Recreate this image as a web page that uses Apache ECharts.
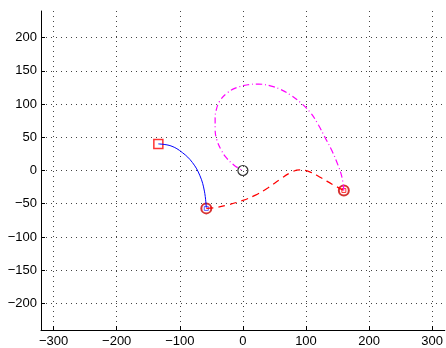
<!DOCTYPE html>
<html>
<head>
<meta charset="utf-8">
<script src="https://cdn.jsdelivr.net/npm/echarts@6/dist/echarts.min.js"></script>
<style>
html, body { margin: 0; padding: 0; background: #fff; }
#main { width: 446px; height: 348px; }
</style>
</head>
<body>
<div id="main"></div>
<script>
// tick labels
var xTicks = [-300, -200, -100, 0, 100, 200, 300];
var yTicks = [-200, -150, -100, -50, 0, 50, 100, 150, 200];

// blue arc (solid)
var arcX = [-134, -114, -96, -80, -68, -61, -58];
var arcY = [40, 37, 27, 12, -8, -31, -56];

// red dashed path
var dashX = [-58, -45, -25, 0, 20, 40, 58, 74, 90, 106, 124, 142, 160];
var dashY = [-57, -56, -52, -45, -37, -26, -14, -4, 1, -2, -11, -21, -30];

// magenta dash-dot loop
var loopX = [160, 157, 150, 141, 130, 120, 108, 94, 78, 62, 45, 25, 8, -12, -27, -37, -42, -44, -44, -41, -35, -27, -14, 0];
var loopY = [-30, -10, 10, 30, 50, 68, 86, 100, 112, 121, 127, 130, 129, 124, 115, 104, 92, 78, 62, 45, 32, 20, 8, 0];

// markers
var startPt = [-134, 40];
var endA = [-58, -57];
var endB = [160, -30];
var originPt = [0, 0];

function pairs(xs, ys) {
	var out = [];
	for (var i = 0; i < xs.length; i++) {
		out.push([xs[i], ys[i]]);
	}
	return out;
}

var myChart = echarts.init(document.getElementById('main'));

var gridLine = { show: true, lineStyle: { color: '#444', type: [1, 4], width: 1 } };
var labelFont = { color: '#000', fontSize: 13, fontFamily: 'Liberation Sans, Arial, sans-serif' };
var minus = function (v) { return v < 0 ? '\u2212' + (-v) : '' + v; };
var hollow = 'rgba(0,0,0,0)';

myChart.setOption({
	animation: false,
	grid: { left: 41, top: 11, right: 0, bottom: 18, containLabel: false },
	xAxis: {
		type: 'value', min: -320, max: 320,
		axisLine: { show: true, onZero: false, lineStyle: { color: '#000', width: 1 } },
		axisTick: { show: true, inside: true, length: 4, customValues: xTicks, lineStyle: { color: '#000' } },
		axisLabel: Object.assign({ customValues: xTicks, margin: 5, formatter: minus }, labelFont),
		splitLine: gridLine
	},
	yAxis: {
		type: 'value', min: -240, max: 240,
		axisLine: { show: true, onZero: false, lineStyle: { color: '#000', width: 1 } },
		axisTick: { show: true, inside: true, length: 4, customValues: yTicks, lineStyle: { color: '#000' } },
		axisLabel: Object.assign({ customValues: yTicks, margin: 4, formatter: minus }, labelFont),
		splitLine: gridLine
	},
	series: [
		{
			type: 'line', smooth: 0.4, symbol: 'none',
			data: pairs(arcX, arcY),
			lineStyle: { color: '#0000ff', width: 1 }
		},
		{
			type: 'line', smooth: 0.4, symbol: 'none',
			data: pairs(dashX, dashY),
			lineStyle: { color: '#ff0000', width: 1.2, type: [7, 5] }
		},
		{
			type: 'line', smooth: 0.4, symbol: 'none',
			data: pairs(loopX, loopY),
			lineStyle: { color: '#ff00ff', width: 1.2, type: [6, 3, 1, 3] }
		},
		{
			type: 'scatter', symbol: 'rect', symbolSize: 9,
			data: [startPt],
			itemStyle: { color: hollow, borderColor: '#ff0000', borderWidth: 1.5 }
		},
		{
			type: 'scatter', symbol: 'circle', symbolSize: 10,
			data: [endA, endB],
			itemStyle: { color: hollow, borderColor: '#cc0000', borderWidth: 2 }
		},
		{
			type: 'scatter', symbol: 'rect', symbolSize: 4,
			data: [endA],
			itemStyle: { color: hollow, borderColor: '#3333ff', borderWidth: 1 }
		},
		{
			type: 'scatter', symbol: 'rect', symbolSize: 4,
			data: [endB],
			itemStyle: { color: hollow, borderColor: '#ff0000', borderWidth: 1 }
		},
		{
			type: 'scatter', symbol: 'circle', symbolSize: 10,
			data: [originPt],
			itemStyle: { color: hollow, borderColor: '#000', borderWidth: 1.2 }
		}
	]
});
window.onresize = function () {
	myChart.resize();
};
</script>
</body>
</html>
